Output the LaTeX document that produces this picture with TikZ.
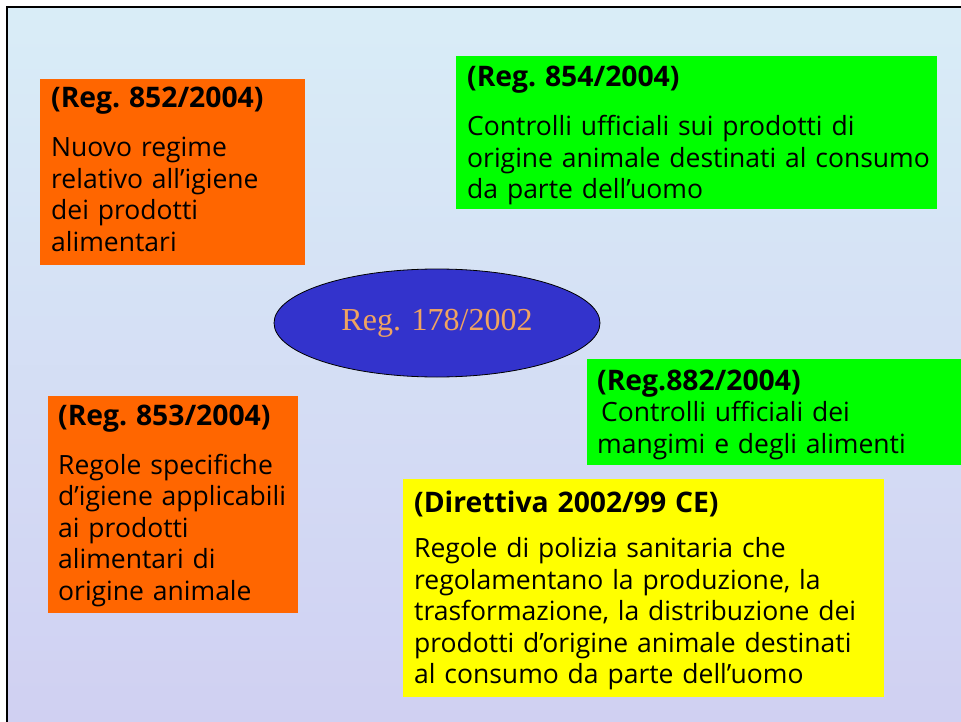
\documentclass[tikz,border=0pt]{standalone}
\usepackage{fontspec}
\setmainfont{Open Sans}
\newfontfamily\ellfont{Liberation Serif}
\usetikzlibrary{shapes.geometric}
\definecolor{orangeR}{RGB}{255,102,0}
\definecolor{greenR}{RGB}{0,255,0}
\definecolor{yellowR}{RGB}{255,255,0}
\definecolor{ellfill}{RGB}{51,51,204}
\definecolor{elltext}{RGB}{240,164,96}
\definecolor{bgtop}{RGB}{217,237,247}
\definecolor{bgbot}{RGB}{208,208,242}
\newcommand{\ttl}[1]{{\fontsize{28.3}{31.5}\selectfont\bfseries #1}}
\tikzset{
  box/.style={rectangle, draw=none, inner sep=0pt, anchor=north west},
  txt/.style={anchor=base west, inner sep=0pt, text width=500pt, align=left,
              font=\frenchspacing\fontsize{26.5}{31.5}\selectfont},
}
\begin{document}
\begin{tikzpicture}[x=1pt,y=-1pt]
\useasboundingbox (0,0) rectangle (961,722);
\fill[white] (0,0) rectangle (961,722);
\shade[top color=bgtop, bottom color=bgbot] (7,7) rectangle (961,722);
\draw[line width=2.5pt] (7,722) -- (7,7) -- (961,7);

% boxes
\node[box, fill=orangeR, minimum width=265pt, minimum height=186pt] (b852) at (40,79) {};
\node[box, fill=greenR, minimum width=481pt, minimum height=153pt] (b854) at (456,56) {};
\node[box, fill=greenR, minimum width=374pt, minimum height=106pt] (b882) at (587,359) {};
\node[box, fill=orangeR, minimum width=250pt, minimum height=217pt] (b853) at (48,396) {};
\node[box, fill=yellowR, minimum width=481pt, minimum height=218pt] (bdir) at (403,479) {};

% ellipse
\node[ellipse, draw=black, line width=0.8pt, fill=ellfill, minimum width=326pt, minimum height=108pt,
      inner sep=0pt, text=elltext, font=\ellfont\fontsize{32}{36}\selectfont] (ell) at (437,323) {Reg. 178/2002};

% texts
\node[txt] (t852) at (51,108) {\ttl{(Reg. 852/2004)}\\[17.5pt]
Nuovo regime\\ relativo all’igiene\\ dei prodotti\\ alimentari};
\node[txt] (t854) at (467,87) {\ttl{(Reg. 854/2004)}\\[17.5pt]
Controlli ufficiali sui prodotti di\\ origine animale destinati al consumo\\ da parte dell’uomo};
\node[txt] (t853) at (58,425) {\ttl{(Reg. 853/2004)}\\[17.5pt]
Regole specifiche\\ d’igiene applicabili\\ ai prodotti\\ alimentari di\\ origine animale};
\node[txt] (t882) at (597,390) {\ttl{(Reg.882/2004)}\\
\hspace*{4pt}Controlli ufficiali dei\\ mangimi e degli alimenti};
\node[txt] (tdir) at (414,512) {\ttl{(Direttiva 2002/99 CE)}\\[14pt]
Regole di polizia sanitaria che\\ regolamentano la produzione, la\\ trasformazione, la distribuzione dei\\ prodotti d’origine animale destinati\\ al consumo da parte dell’uomo};
\end{tikzpicture}
\end{document}
